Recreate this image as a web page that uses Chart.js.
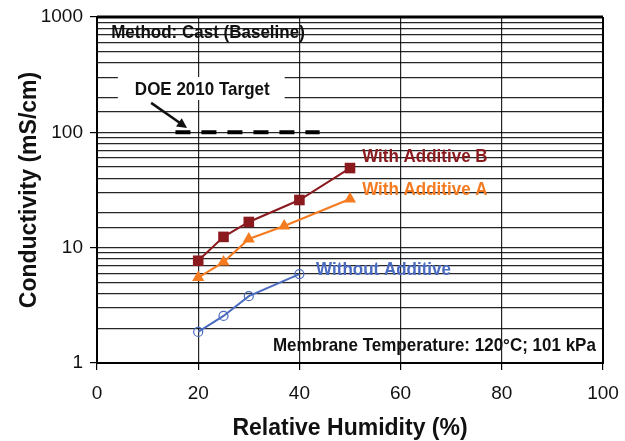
<!DOCTYPE html>
<html>
<head>
<meta charset="utf-8">
<script src="https://cdn.jsdelivr.net/npm/chart.js@4.4.1/dist/chart.umd.min.js"></script>
<style>
  html, body { margin: 0; padding: 0; background: #fff; }
</style>
</head>
<body>
<canvas id="condChart" width="625" height="441"></canvas>
<script>
// values
const humidityB = [20, 25, 30, 40, 50];
const additiveB = [7.7, 12.4, 16.7, 25.9, 49];
const humidityA = [20, 25, 30, 37, 50];
const additiveA = [5.5, 7.5, 11.9, 15.4, 26.4];
const humidityNone = [20, 25, 30, 40];
const withoutAdditive = [1.86, 2.56, 3.8, 5.9];
const doeHumidity = [15.5, 44];
const doeTarget = [100, 100];
const xTickValues = [0, 20, 40, 60, 80, 100];
const yTickLabels = [1, 10, 100, 1000];

const FONT = "'Liberation Sans', Arial, sans-serif";
const RED = "#8B1A1F";
const ORANGE = "#F47B20";
const BLUE = "#4A6BBF";

// text notes, anchored in data units
const notes = [
  { text: "Method: Cast (Baseline)", x: 2.8, y: 728, color: "#111", align: "left" },
  { text: "With Additive B", x: 52.4, y: 61, color: RED, align: "left" },
  { text: "With Additive A", x: 52.4, y: 31.7, color: ORANGE, align: "left" },
  { text: "Without Additive", x: 43.3, y: 6.4, color: BLUE, align: "left" },
  { text: "Membrane Temperature: 120°C; 101 kPa", x: 98.6, y: 1.4, color: "#111", align: "right" },
];
const doeNote = { text: "DOE 2010 Target", x: 20.8, y: 233 };
const doeArrow = { x1: 10.7, y1: 180, x2: 17.8, y2: 109 };

const toPoints = (xs, ys) => xs.map((x, i) => ({ x: x, y: ys[i] }));
const isDecade = (v) => Math.abs(Math.log10(v) - Math.round(Math.log10(v))) < 1e-9;

// bold label, a little taller than wide like the original
function tallText(ctx, text, px, py, align) {
  ctx.save();
  ctx.translate(px, py);
  ctx.scale(1, 1.12);
  ctx.textAlign = align;
  ctx.fillText(text, 0, 0);
  ctx.restore();
}

const notesPlugin = {
  id: "notes",
  beforeDatasetsDraw(chart) {
    const { ctx, scales: { x, y } } = chart;
    // white box behind the DOE label
    ctx.save();
    ctx.font = "bold 17px " + FONT;
    const w = ctx.measureText(doeNote.text).width;
    const cx = x.getPixelForValue(doeNote.x);
    const cy = y.getPixelForValue(doeNote.y);
    ctx.fillStyle = "#fff";
    ctx.fillRect(cx - w / 2 - 17, cy - 13, w + 32, 23);
    ctx.restore();
  },
  afterDatasetsDraw(chart) {
    const { ctx, chartArea: a, scales: { x, y } } = chart;
    ctx.save();
    // frame
    ctx.strokeStyle = "#000";
    ctx.lineWidth = 3;
    ctx.beginPath();
    ctx.moveTo(a.left, a.top);
    ctx.lineTo(a.right, a.top);
    ctx.stroke();
    ctx.lineWidth = 2;
    ctx.beginPath();
    ctx.moveTo(a.right, a.top);
    ctx.lineTo(a.right, a.bottom);
    ctx.lineTo(a.left, a.bottom);
    ctx.lineTo(a.left, a.top);
    ctx.stroke();

    ctx.font = "bold 17px " + FONT;
    ctx.textBaseline = "middle";
    notes.forEach((n) => {
      ctx.fillStyle = n.color;
      tallText(ctx, n.text, x.getPixelForValue(n.x), y.getPixelForValue(n.y), n.align);
    });
    ctx.fillStyle = "#111";
    tallText(ctx, doeNote.text, x.getPixelForValue(doeNote.x), y.getPixelForValue(doeNote.y), "center");

    // arrow to the target line
    const x1 = x.getPixelForValue(doeArrow.x1), y1 = y.getPixelForValue(doeArrow.y1);
    const x2 = x.getPixelForValue(doeArrow.x2), y2 = y.getPixelForValue(doeArrow.y2);
    const ang = Math.atan2(y2 - y1, x2 - x1);
    ctx.strokeStyle = "#111";
    ctx.lineWidth = 2.5;
    ctx.beginPath();
    ctx.moveTo(x1, y1);
    ctx.lineTo(x2 - 6 * Math.cos(ang), y2 - 6 * Math.sin(ang));
    ctx.stroke();
    ctx.fillStyle = "#111";
    ctx.beginPath();
    ctx.moveTo(x2, y2);
    ctx.lineTo(x2 - 10 * Math.cos(ang) + 5 * Math.sin(ang), y2 - 10 * Math.sin(ang) - 5 * Math.cos(ang));
    ctx.lineTo(x2 - 10 * Math.cos(ang) - 5 * Math.sin(ang), y2 - 10 * Math.sin(ang) + 5 * Math.cos(ang));
    ctx.closePath();
    ctx.fill();
    ctx.restore();
  },
};

const ctx = document.getElementById("condChart").getContext("2d");

new Chart(ctx, {
  type: "line",
  data: {
    datasets: [
      {
        label: "DOE 2010 Target",
        data: toPoints(doeHumidity, doeTarget),
        borderColor: "#000",
        borderWidth: 4,
        borderDash: [15, 11],
        borderCapStyle: "butt",
        pointRadius: 0,
      },
      {
        label: "With Additive B",
        data: toPoints(humidityB, additiveB),
        borderColor: RED,
        backgroundColor: RED,
        borderWidth: 2,
        pointStyle: "rect",
        pointRadius: 7.5,
        pointBorderWidth: 0,
      },
      {
        label: "With Additive A",
        data: toPoints(humidityA, additiveA),
        borderColor: ORANGE,
        backgroundColor: ORANGE,
        borderWidth: 2,
        pointStyle: "triangle",
        pointRadius: 7,
        pointBorderWidth: 0,
      },
      {
        label: "Without Additive",
        data: toPoints(humidityNone, withoutAdditive),
        borderColor: BLUE,
        backgroundColor: "rgba(0,0,0,0)",
        borderWidth: 2,
        pointStyle: "circle",
        pointRadius: 4.5,
        pointBorderWidth: 1.2,
      },
    ],
  },
  options: {
    responsive: false,
    animation: false,
    layout: { padding: { top: 17, right: 22, left: 0, bottom: 0 } },
    plugins: {
      legend: { display: false },
      tooltip: { enabled: false },
    },
    scales: {
      x: {
        type: "linear",
        min: 0,
        max: 100,
        afterBuildTicks: (scale) => {
          scale.ticks = xTickValues.map((v) => ({ value: v }));
        },
        afterFit: (scale) => {
          scale.height = 78;
          scale.paddingLeft = 0;
          scale.paddingRight = 0;
        },
        border: { display: false },
        grid: {
          color: "rgba(0,0,0,0.85)",
          lineWidth: 1.2,
          tickLength: 7,
          tickColor: "#000",
        },
        ticks: {
          padding: 12,
          maxRotation: 0,
          color: "#111",
          font: { family: FONT, size: 19 },
        },
        title: {
          display: true,
          text: "Relative Humidity (%)",
          color: "#111",
          font: { family: FONT, size: 23, weight: "bold", lineHeight: 1.1 },
          padding: { top: 0, bottom: 0 },
        },
      },
      y: {
        type: "logarithmic",
        min: 1,
        max: 1000,
        afterFit: (scale) => {
          scale.width = 97;
          scale.paddingTop = 0;
          scale.paddingBottom = 0;
        },
        border: { display: false },
        grid: {
          color: "rgba(0,0,0,0.85)",
          lineWidth: 1.2,
          tickLength: 7,
          tickColor: (c) => (c.tick && isDecade(c.tick.value) ? "#000" : "rgba(0,0,0,0)"),
        },
        ticks: {
          autoSkip: false,
          padding: 7,
          color: "#111",
          font: { family: FONT, size: 19 },
          callback: (v) => (yTickLabels.includes(v) ? String(v) : ""),
        },
        title: {
          display: true,
          text: "Conductivity (mS/cm)",
          color: "#111",
          font: { family: FONT, size: 23, weight: "bold", lineHeight: 1.1 },
          padding: { top: 17, bottom: 0 },
        },
      },
    },
  },
  plugins: [notesPlugin],
});
</script>
</body>
</html>
